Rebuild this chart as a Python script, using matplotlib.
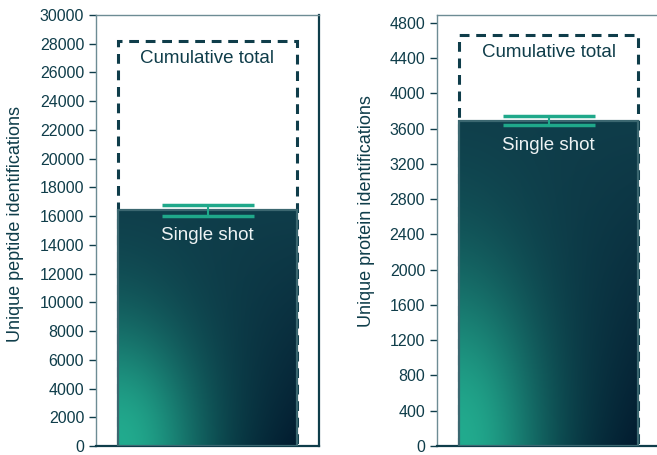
import numpy as np
import matplotlib
matplotlib.use('Agg')
import matplotlib.pyplot as plt
from matplotlib.colors import to_rgb
from matplotlib.patches import Rectangle

# values
panels = ['peptide', 'protein']
ylabels = ['Unique peptide identifications', 'Unique protein identifications']
single_shot = [16400, 3690]
single_err = [400, 52]
cumulative = [28200, 4665]
ymax = [30000, 4890]
tick_step = [2000, 400]
tick_top = [30000, 4800]

DARK = '#0f3d4a'
TEAL = '#1fa88a'
plt.rcParams['font.family'] = ['Liberation Sans', 'DejaVu Sans']


def gradient_img(n=200):
    u = np.linspace(0, 1, n)[None, :]
    v = np.linspace(0, 1, n)[:, None]
    left = np.array(to_rgb('#0e5459'))
    right = np.array(to_rgb('#021a2e'))
    top = np.array(to_rgb('#0f3d4a'))
    glow = np.array(to_rgb('#22ab8e'))
    base = left * (1 - u[..., None]) + right * u[..., None]
    tv = np.clip(v, 0, 1)[..., None] ** 0.8
    base = base * (1 - tv) + top * tv
    w = np.exp(-((u / 0.45) ** 2 + (v / 0.5) ** 2))[..., None]
    img = base * (1 - w) + glow * w
    return img


fig = plt.figure(figsize=(6.57, 4.55), dpi=100)
axes = [fig.add_axes([96 / 657, 9 / 455, 223 / 657, 431 / 455]),
        fig.add_axes([437 / 657, 9 / 455, 223 / 657, 431 / 455])]

for i, ax in enumerate(axes):
    ax.set_xlim(-0.5, 0.5)
    ax.set_ylim(0, ymax[i])
    bw = 0.8
    # cumulative total (dashed outline)
    ax.add_patch(Rectangle((-bw / 2, 0), bw, cumulative[i], fill=False,
                           ls=(0, (3.2, 2.2)), lw=2.2, ec=DARK, zorder=2))
    # single shot bar with gradient fill
    im = ax.imshow(gradient_img(), origin='lower', aspect='auto',
                   extent=(-bw / 2, bw / 2, 0, single_shot[i]), zorder=3)
    rect = Rectangle((-bw / 2, 0), bw, single_shot[i], fill=False,
                     ec='#3b6770', lw=1.6, zorder=4)
    ax.add_patch(rect)
    im.set_clip_path(rect)
    ax.errorbar([0], [single_shot[i]], yerr=[single_err[i]], color=TEAL,
                capsize=33, capthick=2.5, elinewidth=1.5, zorder=5, fmt='none')
    ax.annotate('Cumulative total', (0, cumulative[i]), xytext=(0, -13),
                textcoords='offset points', ha='center', va='center',
                color=DARK, fontsize=13.5, zorder=6)
    ax.annotate('Single shot', (0, single_shot[i]), xytext=(0, -18),
                textcoords='offset points', ha='center', va='center',
                color='#eef3f4', fontsize=13.5, zorder=6)

    ax.set_yticks(np.arange(0, tick_top[i] + 1, tick_step[i]))
    ax.set_xticks([])
    ax.tick_params(axis='y', colors=DARK, labelcolor=DARK, labelsize=11.5,
                   length=5, width=1)
    ax.set_ylabel(ylabels[i], color=DARK, fontsize=13)
    for s in ['left', 'top']:
        ax.spines[s].set_color('#6d8c94')
        ax.spines[s].set_linewidth(1)
    for s in ['right', 'bottom']:
        ax.spines[s].set_color(DARK)
        ax.spines[s].set_linewidth(1.6)

axes[0].yaxis.set_label_coords(-0.323, 0.516)
axes[1].yaxis.set_label_coords(-0.278, 0.545)

fig.savefig('out.png', dpi=100)
